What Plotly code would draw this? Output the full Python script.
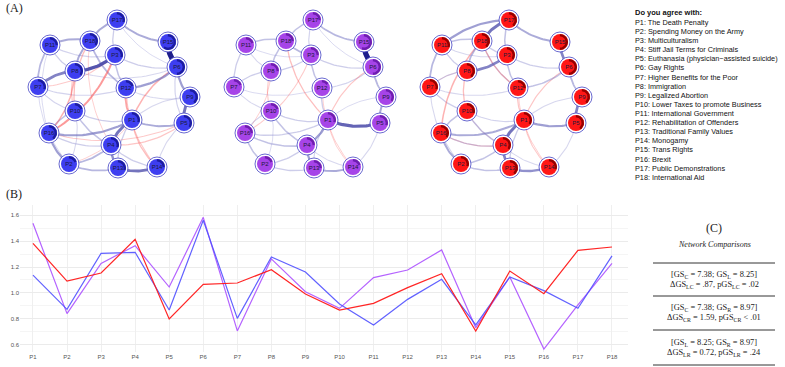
import numpy as np
import plotly.graph_objects as go

# ---------------- data ----------------
items = [f"P{i}" for i in range(1, 19)]

# shared network layout (node coordinates, layout units)
node_x = [132, 69, 115, 111, 184, 177, 38, 75, 190, 75, 50, 126, 118, 157, 168, 49, 117, 90]
node_y = [120, 164, 55, 145, 123, 67, 87, 71, 97, 111, 45, 88, 168, 167, 42, 133, 20, 41]

# node predictability (pie proportion) per group
pie_C = [0.30, 0.20, 0.30, 0.30, 0.35, 0.50, 0.30, 0.35, 0.40, 0.20, 0.25, 0.20, 0.30, 0.25, 0.60, 0.40, 0.30, 0.35]
pie_L = [0.30, 0.20, 0.25, 0.25, 0.30, 0.50, 0.20, 0.25, 0.35, 0.20, 0.20, 0.15, 0.25, 0.20, 0.55, 0.25, 0.25, 0.25]
pie_R = [0.35, 0.30, 0.35, 0.35, 0.40, 0.50, 0.30, 0.40, 0.40, 0.30, 0.30, 0.25, 0.40, 0.30, 0.50, 0.35, 0.40, 0.40]

# edges: (node a, node b, weight)   positive = blue, negative = red
edges_C = [
    (15, 6, 1.0), (8, 3, 0.6), (8, 7, 0.45), (1, 4, 0.5), (4, 13, 0.4), (13, 14, 0.5),
    (9, 5, 0.5), (6, 9, 0.35), (12, 6, 0.35), (16, 1, 0.35), (16, 2, 0.35), (17, 15, 0.3),
    (17, 18, 0.3), (18, 11, 0.3), (11, 7, 0.25), (18, 8, 0.3), (1, 5, 0.3), (10, 16, 0.2),
    (2, 4, 0.25), (2, 13, 0.25), (18, 12, 0.25), (3, 12, 0.2), (10, 4, 0.2), (10, 1, 0.15),
    (3, 6, 0.15), (17, 3, 0.15), (11, 8, 0.15), (7, 10, 0.12), (7, 12, 0.12), (11, 3, 0.12),
    (16, 4, 0.15), (1, 13, 0.15), (4, 14, 0.15), (5, 14, 0.1), (6, 5, 0.12), (9, 1, 0.1),
    (12, 9, 0.1), (8, 6, 0.1), (2, 10, 0.1), (11, 16, 0.08), (7, 2, 0.08), (17, 6, 0.08),
    (16, 3, -0.3), (16, 8, -0.2), (12, 1, -0.25), (6, 1, -0.2), (18, 10, -0.15),
    (1, 14, -0.15), (4, 5, -0.12), (8, 10, -0.12), (16, 5, -0.1), (12, 14, -0.1),
    (7, 3, -0.1), (2, 1, -0.08), (18, 4, -0.08),
]
edges_L = [
    (15, 6, 1.0), (1, 5, 0.55), (4, 1, 0.35), (4, 13, 0.35), (13, 14, 0.3), (6, 9, 0.25),
    (9, 5, 0.3), (17, 15, 0.25), (17, 18, 0.2), (18, 3, 0.25), (18, 11, 0.2), (18, 8, 0.2),
    (3, 12, 0.2), (12, 1, 0.15), (10, 4, 0.2), (16, 4, 0.2), (2, 4, 0.15), (2, 13, 0.15),
    (16, 2, 0.2), (10, 1, 0.15), (11, 7, 0.15), (8, 7, 0.15), (16, 1, 0.15), (3, 6, 0.15),
    (17, 3, 0.12), (14, 5, 0.1), (8, 3, 0.15), (11, 8, 0.1), (7, 10, 0.1), (10, 16, 0.12),
    (12, 6, 0.12), (1, 13, 0.12), (4, 14, 0.1), (17, 6, 0.08), (2, 10, 0.08), (11, 3, 0.08),
    (9, 1, 0.08), (7, 12, 0.08),
    (18, 1, -0.15), (6, 1, -0.12), (8, 10, -0.1), (16, 3, -0.1), (12, 14, -0.08),
    (16, 8, -0.08), (1, 14, -0.08),
]
edges_R = [
    (17, 18, 0.5), (8, 3, 0.45), (1, 4, 0.5), (4, 13, 0.45), (13, 14, 0.4), (9, 5, 0.45),
    (15, 6, 0.45), (1, 5, 0.35), (17, 11, 0.35), (17, 15, 0.3), (16, 1, 0.3), (16, 2, 0.3),
    (11, 7, 0.25), (18, 8, 0.25), (18, 11, 0.2), (6, 9, 0.25), (12, 6, 0.2), (3, 12, 0.2),
    (10, 4, 0.2), (2, 4, 0.2), (2, 13, 0.2), (10, 16, 0.2), (11, 8, 0.15), (7, 10, 0.15),
    (3, 6, 0.15), (17, 3, 0.2), (1, 13, 0.15), (14, 5, 0.1), (18, 12, 0.15), (10, 1, 0.12),
    (16, 4, 0.15), (8, 7, 0.15), (11, 3, 0.1), (7, 2, 0.1), (9, 1, 0.1), (4, 14, 0.1),
    (7, 12, 0.1), (18, 3, 0.15),
    (18, 16, -0.2), (18, 12, -0.15), (8, 7, -0.05), (8, 10, -0.15), (10, 4, -0.05),
    (16, 4, -0.12), (6, 1, -0.12), (12, 1, -0.12), (1, 14, -0.1), (12, 14, -0.08),
]

# (B) line chart values
vals_C = [1.138, 0.874, 1.305, 1.313, 0.869, 1.560, 0.805, 1.277, 1.162, 0.915, 0.754, 0.951, 1.105, 0.754, 1.123, 1.018, 0.882, 1.285]
vals_L = [1.536, 0.841, 1.228, 1.364, 1.046, 1.582, 0.708, 1.262, 1.010, 0.882, 1.118, 1.177, 1.331, 0.733, 1.123, 0.569, 0.908, 1.228]
vals_R = [1.382, 1.092, 1.154, 1.413, 0.800, 1.067, 1.077, 1.179, 0.992, 0.869, 0.920, 1.041, 1.149, 0.708, 1.169, 0.995, 1.328, 1.354]
y_ticks = [0.6, 0.8, 1.0, 1.2, 1.4, 1.6]

legend_title = "Do you agree with:"
legend_items = [
    "P1: The Death Penalty", "P2: Spending Money on the Army", "P3: Multiculturalism",
    "P4: Stiff Jail Terms for Criminals", "P5: Euthanasia (physician\u2212assisted suicide)",
    "P6: Gay Rights", "P7: Higher Benefits for the Poor", "P8: Immigration",
    "P9: Legalized Abortion", "P10: Lower Taxes to promote Business",
    "P11: International Government", "P12: Rehabilitation of Offenders",
    "P13: Traditional Family Values", "P14: Monogamy", "P15: Trans Rights", "P16: Brexit",
    "P17: Public Demonstrations", "P18: International Aid",
]

table_rows = [
    ("[GS<sub>C</sub> = 7.38; GS<sub>L</sub> = 8.25]", "\u0394GS<sub>LC</sub> = .87, pGS<sub>LC</sub> = .02"),
    ("[GS<sub>C</sub> = 7.38; GS<sub>R</sub> = 8.97]", "\u0394GS<sub>CR</sub> = 1.59, pGS<sub>CR</sub> < .01"),
    ("[GS<sub>L</sub> = 8.25; GS<sub>R</sub> = 8.97]", "\u0394GS<sub>LR</sub> = 0.72, pGS<sub>LR</sub> = .24"),
]

# ---------------- figure ----------------
W, H = 785, 367
fig = go.Figure()

panel_styles = [
    dict(fill="rgb(62,62,240)", pie="rgb(28,28,160)", edges=edges_C, pie_vals=pie_C),
    dict(fill="rgb(166,68,232)", pie="rgb(110,30,175)", edges=edges_L, pie_vals=pie_L),
    dict(fill="rgb(255,22,22)", pie="rgb(150,0,0)", edges=edges_R, pie_vals=pie_R),
]
PANEL_STEP = 196
PANEL_W = 215
PANEL_H = 195
layout_axes = {}


def curve(a, b, c=0.18, n=24):
    ax_, ay_ = node_x[a - 1], node_y[a - 1]
    bx_, by_ = node_x[b - 1], node_y[b - 1]
    dx, dy = bx_ - ax_, by_ - ay_
    L = np.hypot(dx, dy)
    mx, my = (ax_ + bx_) / 2, (ay_ + by_) / 2
    cx, cy = mx - dy / L * c * L, my + dx / L * c * L
    t = np.linspace(0, 1, n)
    xs = (1 - t) ** 2 * ax_ + 2 * (1 - t) * t * cx + t ** 2 * bx_
    ys = (1 - t) ** 2 * ay_ + 2 * (1 - t) * t * cy + t ** 2 * by_
    return xs, ys


for k, st in enumerate(panel_styles):
    xa = f"x{k + 1}" if k else "x"
    ya = f"y{k + 1}" if k else "y"
    edges = sorted(st["edges"], key=lambda e: abs(e[2]))
    for a, b, w in edges:
        s = abs(w)
        xs, ys = curve(a, b)
        if w > 0:
            r_, g_, b_ = (int(150 - 120 * s), int(150 - 120 * s), int(215 - 75 * s))
            col = f"rgba({r_},{g_},{b_},{0.22 + 0.78 * min(1, s * 1.6)})"
        else:
            col = f"rgba(250,90,90,{0.18 + 0.8 * min(1, s * 1.8)})"
        fig.add_trace(go.Scatter(x=xs, y=ys, mode="lines", xaxis=xa, yaxis=ya,
                                 line=dict(color=col, width=0.6 + 4.6 * s),
                                 hoverinfo="skip", showlegend=False))
    # outer ring
    fig.add_trace(go.Scatter(x=node_x, y=node_y, mode="markers", xaxis=xa, yaxis=ya,
                             marker=dict(size=20, color="white",
                                         line=dict(color="rgba(80,80,200,0.85)", width=1)),
                             hoverinfo="skip", showlegend=False))
    # inner fill
    fig.add_trace(go.Scatter(x=node_x, y=node_y, mode="markers", xaxis=xa, yaxis=ya,
                             marker=dict(size=16, color=st["fill"], line=dict(width=0)),
                             hoverinfo="skip", showlegend=False))
    # pie arcs
    px, py = [], []
    R = 6.8
    for i in range(18):
        p = st["pie_vals"][i]
        th = np.radians(90 - 360 * p * np.linspace(0, 1, 30))
        px += list(node_x[i] + R * np.cos(th)) + [None]
        py += list(node_y[i] - R * np.sin(th)) + [None]
    fig.add_trace(go.Scatter(x=px, y=py, mode="lines", xaxis=xa, yaxis=ya,
                             line=dict(color=st["pie"], width=2.4),
                             hoverinfo="skip", showlegend=False))
    # labels
    fig.add_trace(go.Scatter(x=node_x, y=node_y, mode="text", text=items, xaxis=xa, yaxis=ya,
                             textposition="middle center",
                             textfont=dict(size=6, color="#1a1a3a", family="Liberation Sans"),
                             hoverinfo="skip", showlegend=False))
    x0 = k * PANEL_STEP
    key = "" if k == 0 else str(k + 1)
    layout_axes[f"xaxis{key}"] = dict(domain=[x0 / W, (x0 + PANEL_W) / W], range=[0, PANEL_W],
                                      visible=False, fixedrange=True)
    layout_axes[f"yaxis{key}"] = dict(domain=[1 - PANEL_H / H, 1], range=[PANEL_H, 0],
                                      visible=False, fixedrange=True)

# (B) line chart
for vals, col in [(vals_L, "rgba(176,90,255,0.95)"), (vals_C, "rgba(80,80,255,0.9)"),
                  (vals_R, "rgba(255,25,25,0.95)")]:
    fig.add_trace(go.Scatter(x=items, y=vals, mode="lines", xaxis="x4", yaxis="y4",
                             line=dict(color=col, width=1.2), showlegend=False))

layout_axes["xaxis4"] = dict(domain=[20 / W, 628 / W], range=[-0.38, 17.47], anchor="y4",
                             type="category", categoryorder="array", categoryarray=items,
                             showgrid=True, gridcolor="#efefef", gridwidth=0.6,
                             zeroline=False, showline=False, ticks="",
                             tickfont=dict(size=6, color="#555", family="Liberation Sans"))
layout_axes["yaxis4"] = dict(domain=[15 / H, 162 / H], range=[0.546, 1.677], anchor="x4",
                             tickvals=y_ticks, ticktext=[f"{v:.1f}" for v in y_ticks],
                             showgrid=True, gridcolor="#ebebeb", gridwidth=0.7,
                             minor=dict(dtick=0.1, tick0=0.5, showgrid=True, gridcolor="#f5f5f5",
                                        gridwidth=0.5),
                             zeroline=False, showline=False, ticks="",
                             tickfont=dict(size=6, color="#555", family="Liberation Sans"))

annotations = []
serif = "Liberation Serif"
annotations.append(dict(x=4 / W, y=1 - 8 / H, text="(A)", showarrow=False, xref="paper", yref="paper",
                        xanchor="left", yanchor="middle", font=dict(size=12, family=serif, color="#222")))
annotations.append(dict(x=4 / W, y=1 - 194 / H, text="(B)", showarrow=False, xref="paper", yref="paper",
                        xanchor="left", yanchor="middle", font=dict(size=12, family=serif, color="#222")))
annotations.append(dict(x=633 / W, y=1 - 13 / H, text=f"<b>{legend_title}</b>", showarrow=False,
                        xref="paper", yref="paper", xanchor="left", yanchor="middle",
                        font=dict(size=7.5, family="Liberation Sans", color="#111")))
for i, t in enumerate(legend_items):
    annotations.append(dict(x=633 / W, y=1 - (22.3 + 9.12 * i) / H, text=t, showarrow=False,
                            xref="paper", yref="paper", xanchor="left", yanchor="middle",
                            font=dict(size=7.3, family="Liberation Sans", color="#111")))

# (C) table
cx = 714 / W
annotations.append(dict(x=cx, y=1 - 228 / H, text="(C)", showarrow=False, xref="paper", yref="paper",
                        xanchor="center", yanchor="middle", font=dict(size=12, family=serif, color="#222")))
annotations.append(dict(x=cx, y=1 - 244 / H, text="<i>Network Comparisons</i>", showarrow=False,
                        xref="paper", yref="paper", xanchor="center", yanchor="middle",
                        font=dict(size=8, family=serif, color="#222")))
row_y = [(275, 285), (308, 318), (343, 353)]
for (t1, t2), (y1, y2) in zip(table_rows, row_y):
    annotations.append(dict(x=cx, y=1 - y1 / H, text=t1, showarrow=False, xref="paper", yref="paper",
                            xanchor="center", yanchor="middle", font=dict(size=8.4, family=serif, color="#222")))
    annotations.append(dict(x=cx, y=1 - y2 / H, text=t2, showarrow=False, xref="paper", yref="paper",
                            xanchor="center", yanchor="middle", font=dict(size=8.4, family=serif, color="#222")))

shapes = []
for yy in [263, 296, 330, 365]:
    shapes.append(dict(type="line", xref="paper", yref="paper", x0=653 / W, x1=775 / W,
                       y0=1 - yy / H, y1=1 - yy / H, line=dict(color="#333", width=1)))

fig.update_layout(width=W, height=H, margin=dict(l=0, r=0, t=0, b=0),
                  paper_bgcolor="white", plot_bgcolor="rgba(0,0,0,0)",
                  showlegend=False, annotations=annotations, shapes=shapes, **layout_axes)

fig.write_html("out.html")
